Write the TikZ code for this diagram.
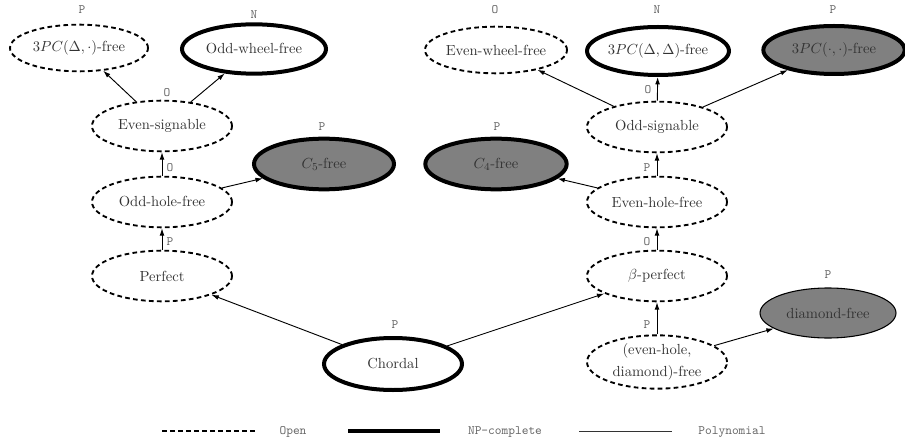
\documentclass[tikz,border=0pt]{standalone}
\usepackage{fontspec}
\usetikzlibrary{arrows.meta,shapes.geometric}
\begin{document}
\begin{tikzpicture}[x=0.75pt,y=-0.75pt,
  base/.style={ellipse, inner sep=0pt, minimum width=105pt, minimum height=38pt,
    font=\fontsize{10.95}{15}\selectfont, text=black!80, align=center},
  open/.style={base, draw, line width=1.4pt, dash pattern=on 3.5pt off 2.5pt},
  npc/.style={base, draw, line width=3pt},
  poly/.style={base, draw, line width=0.8pt},
  shaded/.style={fill=black!50},
  stat/.style={font=\ttfamily\fontsize{9.6}{11}\selectfont, text=black!60, inner sep=0pt},
  arr/.style={-{Latex[length=5.5pt,width=3.6pt]}, line width=0.7pt},
  legopen/.style={line width=1.4pt, dash pattern=on 3.5pt off 2.5pt},
]
\useasboundingbox (0,0) rectangle (905,438);

% left side
\node[open, minimum width=103.5pt, minimum height=35pt] (tpcd) at (79,48) {$3PC(\Delta,\cdot)$-free};
\node[npc, minimum width=108pt, minimum height=37pt] (owf) at (254,49) {Odd-wheel-free};
\node[open] (es) at (162,126) {Even-signable};
\node[open] (ohf) at (162,202) {Odd-hole-free};
\node[npc, shaded] (c5) at (324,164) {$C_5$-free};
\node[open] (pf) at (162,276) {Perfect};
\node[npc, minimum width=103.5pt, minimum height=39pt] (ch) at (393,364) {Chordal};

% right side
\node[open, minimum height=35pt] (ewf) at (496,50) {Even-wheel-free};
\node[npc, minimum height=36pt] (tdd) at (658,51) {$3PC(\Delta,\Delta)$-free};
\node[npc, shaded, minimum width=106pt, minimum height=36pt] (tpp) at (834,50) {$3PC(\cdot,\cdot)$-free};
\node[open] (os) at (657,127) {Odd-signable};
\node[npc, shaded, minimum width=106pt] (c4) at (496,164) {$C_4$-free};
\node[open] (ehf) at (657,202) {Even-hole-free};
\node[open] (bp) at (657,276) {$\beta$-perfect};
\node[open, minimum height=40pt, font=\fontsize{10.95}{17}\selectfont] (ehd) at (657,362) {(even-hole,\\diamond)-free};
\node[poly, shaded, minimum width=102pt, minimum height=37.5pt] (df) at (828,313) {diamond-free};

% status labels
\node[stat] (l1) at (82,10) {P};
\node[stat] (l2) at (254,15) {N};
\node[stat] (l3) at (167,93) {O};
\node[stat] (l4) at (170,168) {O};
\node[stat] (l5) at (170,242) {P};
\node[stat] (l6) at (322,127) {P};
\node[stat] (l7) at (395,325) {P};
\node[stat] (l8) at (495,10) {O};
\node[stat] (l9) at (657,10) {N};
\node[stat] (l10) at (833,10) {P};
\node[stat] (l11) at (648,90) {O};
\node[stat] (l12) at (497,127) {P};
\node[stat] (l13) at (647,168) {P};
\node[stat] (l14) at (647,242) {O};
\node[stat] (l15) at (647,325) {P};
\node[stat] (l16) at (828,275) {P};

% edges
\draw[arr] (es) -- (tpcd);
\draw[arr] (es) -- (owf);
\draw[arr] (ohf) -- (es);
\draw[arr] (ohf) -- (c5);
\draw[arr] (pf) -- (ohf);
\draw[arr] (ch) -- (pf);
\draw[arr] (ch) -- (bp);
\draw[arr] (os) -- (ewf);
\draw[arr] (os) -- (tdd);
\draw[arr] (os) -- (tpp);
\draw[arr] (ehf) -- (os);
\draw[arr] (ehf) -- (c4);
\draw[arr] (bp) -- (ehf);
\draw[arr] (ehd) -- (bp);
\draw[arr] (ehd) -- (df);

% legend
\coordinate (a1) at (162,431); \coordinate (a2) at (257,431);
\coordinate (b1) at (348,431); \coordinate (b2) at (440,431);
\coordinate (c1) at (579,431); \coordinate (c2) at (672,431);
\draw[legopen] (a1) -- (a2);
\draw[line width=3pt] (b1) -- (b2);
\draw[line width=0.7pt, black!80] (c1) -- (c2);
\node[stat] (t1) at (293,432) {Open};
\node[stat] (t2) at (505,432) {NP-complete};
\node[stat] (t3) at (732,432) {Polynomial};
\end{tikzpicture}
\end{document}
